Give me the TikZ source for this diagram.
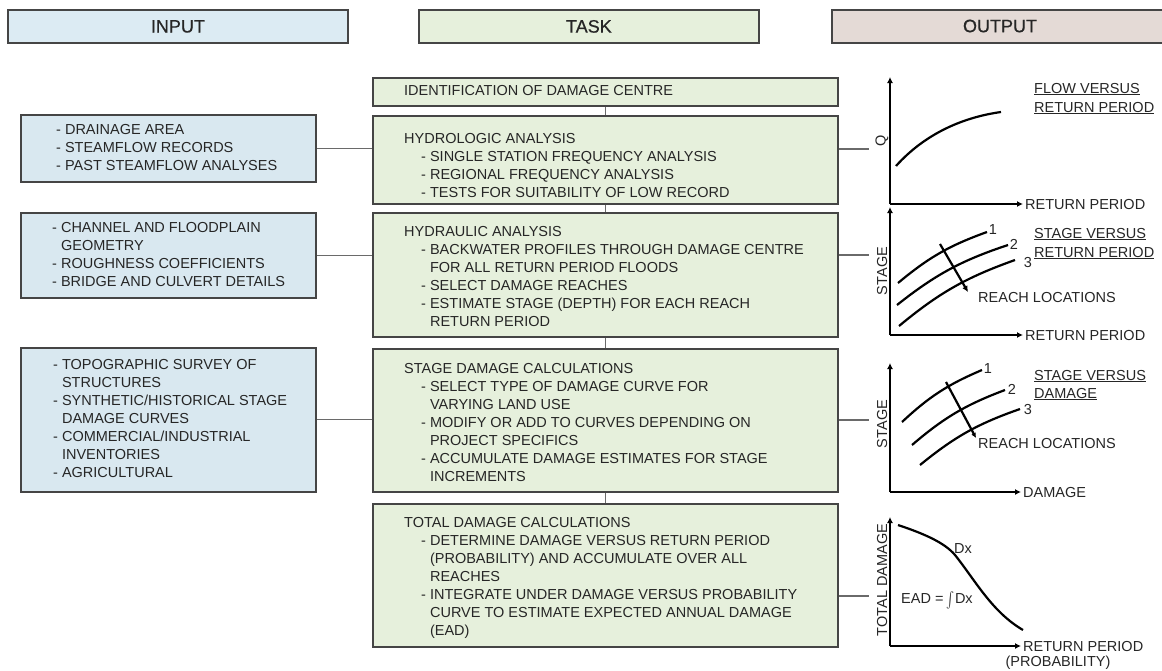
\documentclass[tikz,border=0pt]{standalone}
\usepackage{fontspec}
\setmainfont{Liberation Sans}
\newfontfamily\hdfont[FakeBold=0.6]{Liberation Sans}
\usetikzlibrary{arrows.meta}
\definecolor{hblue}{HTML}{DCEBF3}
\definecolor{iblue}{HTML}{D9E8F0}
\definecolor{tgreen}{HTML}{E6F0DC}
\definecolor{obrown}{HTML}{E4DAD6}
\definecolor{bord}{HTML}{454545}
\definecolor{ink}{HTML}{262626}
\newcommand\itm{\hspace*{17pt}- }
\newcommand\cnt{\hspace*{17pt}\phantom{- }}
\newcommand\cn{\phantom{- }}
\begin{document}
\begin{tikzpicture}[x=1pt,y=-1pt,
  hdr/.style={draw=bord,line width=1.8pt,anchor=north west,inner sep=0pt,font=\hdfont\fontsize{18}{20}\selectfont,text=ink},
  box/.style={draw=bord,line width=1.8pt,anchor=north west,inner sep=0pt},
  txt/.style={anchor=north west,inner sep=0pt,align=left,text=ink,font=\fontsize{14.5}{18}\selectfont},
  lbl/.style={inner sep=0pt,text=ink,font=\fontsize{14.5}{18}\selectfont},
  conn/.style={draw=bord!80,line width=1.1pt},
  axis/.style={line width=2.4pt,-{Latex[length=6pt,width=6pt]}},
  crv/.style={line width=2.2pt},
]
\fill[white] (0,0) rectangle (1162,670);
\useasboundingbox (0,0) rectangle (1162,670);

% headers
\node[hdr,fill=hblue,minimum width=340pt,minimum height=33pt] (hin) at (7,9) {INPUT};
\node[hdr,fill=tgreen,minimum width=340pt,minimum height=33pt] (htask) at (418,9) {TASK};
\node[hdr,fill=obrown,minimum width=345pt,minimum height=33pt] (hout) at (831,9) {};
\node[inner sep=0pt,font=\hdfont\fontsize{18}{20}\selectfont,text=ink] (houtt) at (1000,26) {OUTPUT};

% input boxes
\node[box,fill=iblue,minimum width=295pt,minimum height=67pt] (in1) at (20,114) {};
\node[box,fill=iblue,minimum width=295pt,minimum height=85pt] (in2) at (20,212) {};
\node[box,fill=iblue,minimum width=295pt,minimum height=144pt] (in3) at (20,347) {};
\node[txt] (tin1) at (56,121.4) {\strut- DRAINAGE AREA\\- STEAMFLOW RECORDS\\- PAST STEAMFLOW ANALYSES};
\node[txt] (tin2) at (52,219.4) {\strut- CHANNEL AND FLOODPLAIN\\\cn GEOMETRY\\- ROUGHNESS COEFFICIENTS\\- BRIDGE AND CULVERT DETAILS};
\node[txt] (tin3) at (53,356.4) {\strut- TOPOGRAPHIC SURVEY OF\\\cn STRUCTURES\\- SYNTHETIC/HISTORICAL STAGE\\\cn DAMAGE CURVES\\- COMMERCIAL/INDUSTRIAL\\\cn INVENTORIES\\- AGRICULTURAL};

% task boxes
\node[box,fill=tgreen,minimum width=465pt,minimum height=28pt] (ident) at (372,77) {};
\node[box,fill=tgreen,minimum width=465pt,minimum height=88pt] (hydro) at (372,115) {};
\node[box,fill=tgreen,minimum width=465pt,minimum height=124pt] (hydra) at (372,212) {};
\node[box,fill=tgreen,minimum width=465pt,minimum height=143pt] (stage) at (372,348) {};
\node[box,fill=tgreen,minimum width=465pt,minimum height=143pt] (total) at (372,503) {};
\node[txt] (tident) at (404,82.4) {\strut IDENTIFICATION OF DAMAGE CENTRE};
\node[txt] (thydro) at (404,130.4) {\strut HYDROLOGIC ANALYSIS\\\itm SINGLE STATION FREQUENCY ANALYSIS\\\itm REGIONAL FREQUENCY ANALYSIS\\\itm TESTS FOR SUITABILITY OF LOW RECORD};
\node[txt] (thydra) at (404,223.4) {\strut HYDRAULIC ANALYSIS\\\itm BACKWATER PROFILES THROUGH DAMAGE CENTRE\\\cnt FOR ALL RETURN PERIOD FLOODS\\\itm SELECT DAMAGE REACHES\\\itm ESTIMATE STAGE (DEPTH) FOR EACH REACH\\\cnt RETURN PERIOD};
\node[txt] (tstage) at (404,360.4) {\strut STAGE DAMAGE CALCULATIONS\\\itm SELECT TYPE OF DAMAGE CURVE FOR\\\cnt VARYING LAND USE\\\itm MODIFY OR ADD TO CURVES DEPENDING ON\\\cnt PROJECT SPECIFICS\\\itm ACCUMULATE DAMAGE ESTIMATES FOR STAGE\\\cnt INCREMENTS};
\node[txt] (ttotal) at (404,514.4) {\strut TOTAL DAMAGE CALCULATIONS\\\itm DETERMINE DAMAGE VERSUS RETURN PERIOD\\\cnt (PROBABILITY) AND ACCUMULATE OVER ALL\\\cnt REACHES\\\itm INTEGRATE UNDER DAMAGE VERSUS PROBABILITY\\\cnt CURVE TO ESTIMATE EXPECTED ANNUAL DAMAGE\\\cnt (EAD)};

% connectors
\draw[conn] (ident.south) -- (hydro.north);
\draw[conn] (hydro.south) -- (hydra.north);
\draw[conn] (hydra.south) -- (stage.north);
\draw[conn] (stage.south) -- (total.north);
\draw[conn] (in1.east) -- (in1.east -| hydro.west);
\draw[conn] (in2.east) -- (in2.east -| hydra.west);
\draw[conn] (in3.east) -- (in3.east -| stage.west);
\coordinate (c1) at (869,149);
\coordinate (c2) at (869,255);
\coordinate (c3) at (869,420);
\coordinate (c4) at (869,596);
\draw[conn] (c1 -| hydro.east) -- (c1);
\draw[conn] (c2 -| hydra.east) -- (c2);
\draw[conn] (c3 -| stage.east) -- (c3);
\draw[conn] (c4 -| total.east) -- (c4);

% graph 1
\coordinate (o1) at (890,204);
\coordinate (y1) at (890,77);
\coordinate (x1) at (1023,204);
\draw[axis] (o1) -- (y1);
\draw[axis] (o1) -- (x1);
\draw[crv] (896,166) .. controls (922,137) and (958,118) .. (1001,112);
\node[lbl,rotate=90] (q) at (882,141) {Q};
\node[lbl,anchor=west] (rp1) at (1025,205) {RETURN PERIOD};
\node[lbl,anchor=base west] (g1a) at (1034,93) {\underline{FLOW VERSUS}};
\node[lbl,anchor=base west] (g1b) at (1034,112) {\underline{RETURN PERIOD}};

% graph 2
\coordinate (o2) at (890,335);
\coordinate (y2) at (890,207);
\coordinate (x2) at (1023,335);
\draw[axis] (o2) -- (y2);
\draw[axis] (o2) -- (x2);
\draw[crv] (898,283) to[bend left=10] (987,232);
\draw[crv] (897,305) to[bend left=10] (1008,245);
\draw[crv] (899,326) to[bend left=10] (1015,260);
\draw[crv,-{Latex[length=6pt,width=6pt]}] (940,244) -- (968,292);
\node[lbl] (n21) at (993,230) {1};
\node[lbl] (n22) at (1014,244) {2};
\node[lbl] (n23) at (1028,263) {3};
\node[lbl,rotate=90] (st2) at (882,271) {STAGE};
\node[lbl,anchor=west] (rl2) at (978,298) {REACH LOCATIONS};
\node[lbl,anchor=west] (rp2) at (1025,336) {RETURN PERIOD};
\node[lbl,anchor=base west] (g2a) at (1034,238) {\underline{STAGE VERSUS}};
\node[lbl,anchor=base west] (g2b) at (1034,257) {\underline{RETURN PERIOD}};

% graph 3
\coordinate (o3) at (890,492);
\coordinate (y3) at (890,363);
\coordinate (x3) at (1021,492);
\draw[axis] (o3) -- (y3);
\draw[axis] (o3) -- (x3);
\draw[crv] (902,422) to[bend left=10] (982,370);
\draw[crv] (912,445) to[bend left=10] (1005,390);
\draw[crv] (920,465) to[bend left=10] (1020,409);
\draw[crv,-{Latex[length=5pt,width=5pt]}] (946,382) -- (976,438);
\node[lbl] (n31) at (988,369) {1};
\node[lbl] (n32) at (1012,389) {2};
\node[lbl] (n33) at (1028,410) {3};
\node[lbl,rotate=90] (st3) at (882,424) {STAGE};
\node[lbl,anchor=west] (rl3) at (978,443) {REACH LOCATIONS};
\node[lbl,anchor=west] (dm3) at (1023,492) {DAMAGE};
\node[lbl,anchor=base west] (g3a) at (1034,380) {\underline{STAGE VERSUS}};
\node[lbl,anchor=base west] (g3b) at (1034,398) {\underline{DAMAGE}};

% graph 4
\coordinate (o4) at (890,646);
\coordinate (y4) at (890,517);
\coordinate (x4) at (1021,646);
\draw[axis] (o4) -- (y4);
\draw[axis] (o4) -- (x4);
\draw[crv] (898,525) .. controls (925,534) and (945,543) .. (955,555) .. controls (975,580) and (992,612) .. (1023,630);
\node[lbl,rotate=90] (td4) at (882,580) {TOTAL DAMAGE};
\node[lbl] (dx4) at (963,549) {Dx};
\node[lbl,anchor=west] (ead) at (901,600) {EAD =\hspace{3pt}\raisebox{-2pt}{\scalebox{1.2}[1.6]{$\int$}}\hspace{0.5pt}Dx};
\node[lbl,anchor=west] (rp4) at (1023,646) {RETURN PERIOD};
\node[lbl] (pr4) at (1058,663) {(PROBABILITY)};
\end{tikzpicture}
\end{document}
